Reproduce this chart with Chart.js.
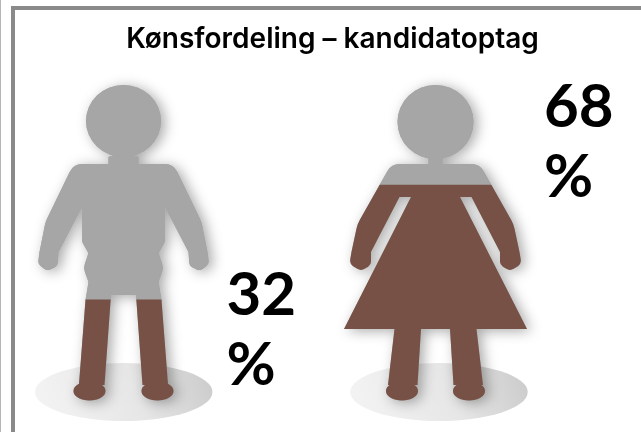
<!DOCTYPE html>
<html>
<head>
<meta charset="utf-8">
<script src="https://cdn.jsdelivr.net/npm/chart.js@4"></script>
<style>
html,body{margin:0;padding:0;background:#fff;overflow:hidden;width:641px;height:432px}
#strip{position:absolute;left:0;top:0;width:1px;height:432px;background:#b5b5b5}
#frame{position:absolute;left:11px;top:6px;width:700px;height:500px;border:4px solid #8a8a8a;box-sizing:border-box}
#c{position:absolute;left:0;top:0;filter:blur(0.5px)}
</style>
</head>
<body>
<div id="strip"></div>
<div id="frame"></div>
<canvas id="c" width="641" height="432"></canvas>
<script>
const categories = ['Mænd', 'Kvinder'];
const shares = [32, 68];
const remainders = [68, 32];
const titleText = 'Kønsfordeling – kandidatoptag';

const BROWN = '#775146', GRAY = '#a6a6a6';

function mirror(pts){ return pts.concat(pts.slice().reverse().map(p => [-p[0], p[1], p[2]])); }
function trace(path, pts){
  const n = pts.length;
  path.moveTo(pts[0][0],pts[0][1]);
  for(let i=1;i<n;i++){
    const p=pts[i], q=pts[(i+1)%n];
    if(p[2]) path.arcTo(p[0],p[1],q[0],q[1],p[2]); else path.lineTo(p[0],p[1]);
  }
  path.closePath();
}
function manShape(){
  const p = new Path2D();
  p.ellipse(0,-281,37.5,36,0,0,Math.PI*2);
  p.closePath();
  trace(p, mirror([
    [0,-250],[15,-245],[15,-238],[50,-238,14],[78,-180,30],[84,-150,10],
    [85.5,-138,6],[76.5,-131,6],[66,-136,6],[65,-150,4],[41.5,-195,0],
    [41.5,-160,10],[35,-149,4],[40,-134,12],[35,-120,3],[38,-102],[44.5,-18],[19,-17],[12.5,-107],[0,-107]
  ]));
  p.moveTo(50,-11); p.ellipse(34,-11,16,9.5,0,0,Math.PI*2); p.closePath();
  p.moveTo(-18,-11); p.ellipse(-34,-11,16,9.5,0,0,Math.PI*2); p.closePath();
  return p;
}
function womanShape(){
  const p = new Path2D();
  p.ellipse(0,-280,38,37,0,0,Math.PI*2);
  p.closePath();
  trace(p, mirror([
    [0,-250],[7,-244],[7,-238],[44,-238,14],[78,-178,30],[84,-150,10],
    [86,-138,7],[74.5,-131,7],[64.5,-137,6],[64.5,-150,3],[36,-205],[24.5,-205],
    [91.5,-73],[41,-73],[47.5,-17],[18,-17],[14.5,-73],[0,-73]
  ]));
  p.moveTo(49.5,-11); p.ellipse(33.5,-11,16,9.5,0,0,Math.PI*2); p.closePath();
  p.moveTo(-17.5,-11); p.ellipse(-33.5,-11,16,9.5,0,0,Math.PI*2); p.closePath();
  return p;
}
const shapes = [manShape(), womanShape()];
const groundShift = [0.2, 3.5];
const labelOffset = [[103,-87,-17],[108.5,-275,-205]];

const pictogram = {
  id:'pictogram',
  afterLayout(chart){
    // let the title span the framed panel rather than the plot area
    chart.titleBlock.left = 14;
    chart.titleBlock.right = 651;
  },
  beforeDatasetsDraw(chart){
    const {ctx, scales:{x,y}} = chart;
    const base = y.getPixelForValue(0);
    const union = new Path2D();
    categories.forEach((c,i)=>{
      const cx = x.getPixelForValue(i);
      const gx = cx + groundShift[i], gy = base - 10;
      const g = ctx.createLinearGradient(gx-70,gy+30,gx+80,gy-25);
      g.addColorStop(0,'#f2f2f2'); g.addColorStop(0.55,'#e6e6e6'); g.addColorStop(1,'#cdcdcd');
      ctx.save();
      ctx.fillStyle = g;
      ctx.beginPath(); ctx.ellipse(gx,gy,88.7,29,0,0,Math.PI*2); ctx.fill();
      ctx.restore();
      ctx.save();
      ctx.translate(cx,base);
      ctx.shadowColor='rgba(0,0,0,0.34)'; ctx.shadowBlur=13; ctx.shadowOffsetX=4; ctx.shadowOffsetY=2;
      ctx.fillStyle=GRAY;
      ctx.fill(shapes[i]);
      ctx.restore();
      union.addPath(shapes[i], new DOMMatrix().translate(cx,base));
    });
    ctx.save();
    ctx.clip(union);
  },
  afterDatasetsDraw(chart){
    const {ctx, scales:{x,y}} = chart;
    ctx.restore();
    const base = y.getPixelForValue(0);
    ctx.save();
    ctx.fillStyle='#000';
    ctx.font='700 60px Lato';
    ctx.textAlign='left'; ctx.textBaseline='alphabetic';
    shares.forEach((v,i)=>{
      const cx = x.getPixelForValue(i), o = labelOffset[i];
      ctx.fillText(String(v), cx+o[0], base+o[1]);
      ctx.fillText('%', cx+o[0], base+o[2]);
    });
    ctx.restore();
  }
};

new Chart(document.getElementById('c'),{
  type:'bar',
  data:{labels:categories,datasets:[
    {label:'Andel',data:shares,backgroundColor:BROWN,stack:'s',clip:false,barThickness:200,borderWidth:0},
    {label:'Rest',data:remainders,backgroundColor:GRAY,stack:'s',clip:false,barThickness:200,borderWidth:0}
  ]},
  options:{
    responsive:false,animation:false,
    layout:{padding:{left:123.5,right:205.5,top:0,bottom:30}},
    plugins:{
      legend:{display:false},tooltip:{enabled:false},
      title:{display:true,text:titleText,align:'center',color:'#000',
        font:{family:'Inter',size:28,weight:'600',lineHeight:1.2},padding:{top:23,bottom:26.4}}
    },
    scales:{
      x:{type:'category',offset:false,display:false,stacked:true,grid:{display:false}},
      y:{min:0,max:100,display:false,stacked:true,grid:{display:false}}
    }
  },
  plugins:[pictogram]
});
</script>
</body>
</html>
